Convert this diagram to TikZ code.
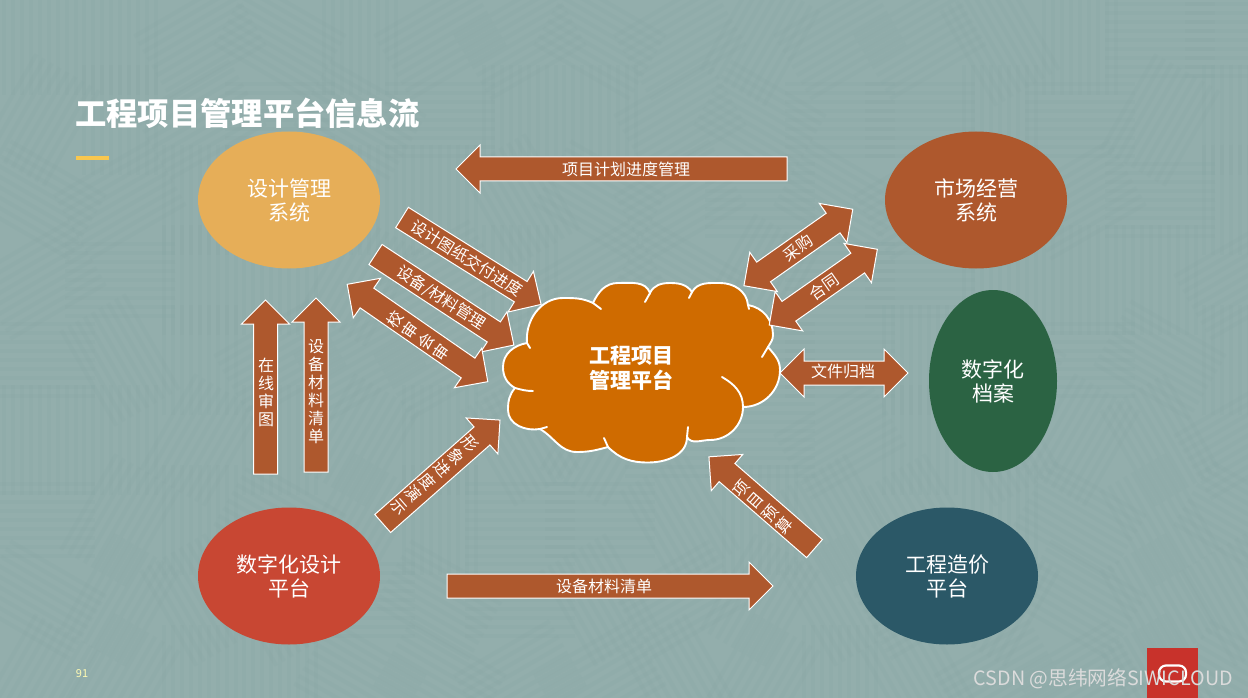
\documentclass[tikz,border=0pt]{standalone}
\usepackage{fontspec}
\setmainfont{Noto Sans CJK SC}
\usetikzlibrary{shapes.arrows,shapes.geometric}
\definecolor{bgcol}{HTML}{93AEAC}
\definecolor{bgline}{HTML}{88A5A4}
\definecolor{arrowcol}{HTML}{AE582D}
\definecolor{cloudcol}{HTML}{CF6B00}
\definecolor{designcol}{HTML}{E6AE58}
\definecolor{archivecol}{HTML}{2B6343}
\definecolor{digitalcol}{HTML}{C84733}
\definecolor{costcol}{HTML}{2B5867}
\definecolor{markcol}{HTML}{C8322B}
\definecolor{barcol}{HTML}{F9C74F}
\tikzset{
	oval/.style={ellipse,minimum width=182pt,minimum height=137pt,inner sep=0pt,text=white,align=center,font=\fontsize{21}{24}\selectfont},
	onearrow/.style={single arrow,anchor=tail,draw=white,fill=arrowcol,line width=1pt,inner sep=0pt,outer sep=0pt,text height=23pt,text depth=0pt,minimum width=23pt,single arrow head extend=12pt},
	twoarrow/.style={double arrow,draw=white,fill=arrowcol,line width=1pt,inner sep=0pt,outer sep=0pt,text height=23pt,text depth=0pt,minimum width=23pt,double arrow head extend=12pt},
	tag/.style={text=white,inner sep=0pt,align=center,font=\fontsize{16}{19}\selectfont},
	puff/.style={draw=white,line width=1.9pt,line cap=round},
}
\begin{document}
\begin{tikzpicture}[x=1pt,y=1pt]
	\useasboundingbox(0,0)rectangle(1248,-698);
	\fill[bgcol](0,0)rectangle(1248,-698);
	% faint strokes of the backdrop
	\begin{scope}
		\clip(0,0)rectangle(1248,-698);
		\pgfmathsetseed{91}
		\foreach\i in {0,...,15}{
			\foreach\j in {0,...,8}{
				\pgfmathsetmacro\turn{random(0,11)*30}
				\begin{scope}[shift={(40+\i*80,-40-\j*80)},rotate=\turn]
					\foreach\k in {-4,...,4}
						\draw[bgline,line width=4pt,opacity=.2](-55,\k*9)--(55,\k*9);
				\end{scope}
			}
		}
	\end{scope}

	\node[anchor=west,inner sep=0pt,text=white,font=\fontsize{31.3}{34}\selectfont\bfseries](title)at(75,-113){工程项目管理平台信息流};
	\fill[barcol](76,-156)rectangle(109,-160);
	\node[text=yellow!30!white,inner sep=0pt,font=\fontsize{11}{13}\selectfont](page)at(82,-674){91};

	\node[oval,fill=designcol](design)at(289,-200){设计管理\\系统};
	\node[oval,fill=arrowcol](market)at(976,-200){市场经营\\系统};
	\node[oval,fill=archivecol,minimum width=128pt,minimum height=182pt](archive)at(993,-381){数字化\\档案};
	\node[oval,fill=digitalcol](digital)at(289,-576){数字化设计\\平台};
	\node[oval,fill=costcol](cost)at(947,-576){工程造价\\平台};

	% cloud
	\draw[puff,fill=cloudcol](527,-343)
		to[out=95,in=180](563,-298)to[out=0,in=155](593,-303)
		to[out=65,in=180](618,-283)to[out=0,in=110](650,-293)
		to[out=65,in=180](670,-283)to[out=0,in=125](692,-292)
		to[out=60,in=180](720,-283)to[out=0,in=95](748,-305)
		to[out=-10,in=90](773,-335)to[out=-90,in=60](768,-347)
		to[out=-50,in=90](780,-370)to[out=-90,in=0](743,-407)
		to[out=-90,in=0](710,-440)to[out=180,in=-60](687,-437)
		to[out=-90,in=0](648,-462.5)to[out=180,in=-45](608,-447)
		to[out=195,in=0](577,-452)to[out=180,in=-30](540,-429)
		to[out=190,in=-90](508,-410)to[out=90,in=-130](515,-388)
		to[out=150,in=-90](503,-367)to[out=90,in=190](527,-343)--cycle;
	\draw[puff](527,-343)--(530,-348);
	\draw[puff](593,-303)--(601,-309);
	\draw[puff](650,-293)--(645,-302);
	\draw[puff](692,-292)--(689,-298);
	\draw[puff](748,-305)--(749,-309);
	\draw[puff](768,-347)--(762,-357);
	\draw[puff](743,-407)to[out=90,in=-30](722,-377);
	\draw[puff](515,-388)to[out=-15,in=180](533,-391);
	\draw[puff](540,-429)--(547,-427);
	\draw[puff](608,-447)--(604,-438);
	\draw[puff](687,-437)--(688,-427);
	\node[text=white,inner sep=0pt,align=center,font=\fontsize{21}{24.5}\selectfont\bfseries](hub)at(631,-368){工程项目\\管理平台};

	% arrows
	\node[onearrow,rotate=180,minimum height=331pt](planarrow)at(787,-169){};
	\node[onearrow,minimum height=326pt](listarrow)at(447,-586){};
	\node[onearrow,rotate=90,minimum height=174pt](reviewarrow)at(265.5,-474){};
	\node[onearrow,rotate=90,minimum height=174pt](billarrow)at(316,-472){};
	\node[onearrow,rotate=-32,minimum height=164pt](drawarrow)at(402,-217.5){};
	\node[onearrow,rotate=-33.2,minimum height=165.4pt](equiparrow)at(375.5,-254.5){};
	\node[twoarrow,rotate=-34.7,minimum height=171pt](checkarrow)at(417.5,-333){};
	\node[twoarrow,rotate=35.1,minimum height=133pt](buyarrow)at(798.35,-247.5){};
	\node[twoarrow,rotate=35,minimum height=132pt](dealarrow)at(823.3,-287.15){};
	\node[twoarrow,minimum height=128pt](filearrow)at(844,-373){};
	\node[onearrow,rotate=41.4,minimum height=156.4pt](showarrow)at(382.7,-523.5){};
	\node[onearrow,rotate=139,minimum height=139.9pt](budgetarrow)at(814.5,-548.6){};

	% texts on the arrows
	\node[tag](plantag)at(626,-169){项目计划进度管理};
	\node[tag](listtag)at(604,-586){设备材料清单};
	\node[tag](filetag)at(843,-371){文件归档};
	\node[tag,rotate=-32](drawtag)at(467,-258){设计图纸交付进度};
	\node[tag,rotate=-33](equiptag)at(441,-298){设备/材料管理};
	\node[tag,rotate=35](buytag)at(798,-248){采购};
	\node[tag,rotate=35](dealtag)at(824,-287){合同};
	\node[tag,font=\fontsize{16}{18}\selectfont](reviewtag)at(266,-392){在\\线\\审\\图};
	\node[tag,font=\fontsize{16}{18}\selectfont](billtag)at(316,-392){设\\备\\材\\料\\清\\单};
	\node[tag,rotate=55](checktag)at(418,-336){校\\审\\会\\审};
	\node[tag,rotate=-49](showtag)at(434.7,-475){形\\象\\进\\度\\演\\示};
	\node[tag,rotate=49](budgettag)at(763,-507){项\\目\\预\\算};

	% corner mark
	\node[fill=markcol,minimum width=51pt,minimum height=50pt,inner sep=0pt](mark)at(1172.5,-673){};
	\node[draw=white,line width=2.2pt,rounded corners=7pt,minimum width=27pt,minimum height=16pt,inner sep=0pt](ring)at(1172.5,-673.5){};
	\node[anchor=east,inner sep=0pt,text=white!72!gray,font=\fontsize{19.7}{22}\selectfont](sign)at(1233,-679){CSDN @思纬网络SIWICLOUD};
\end{tikzpicture}
\end{document}
